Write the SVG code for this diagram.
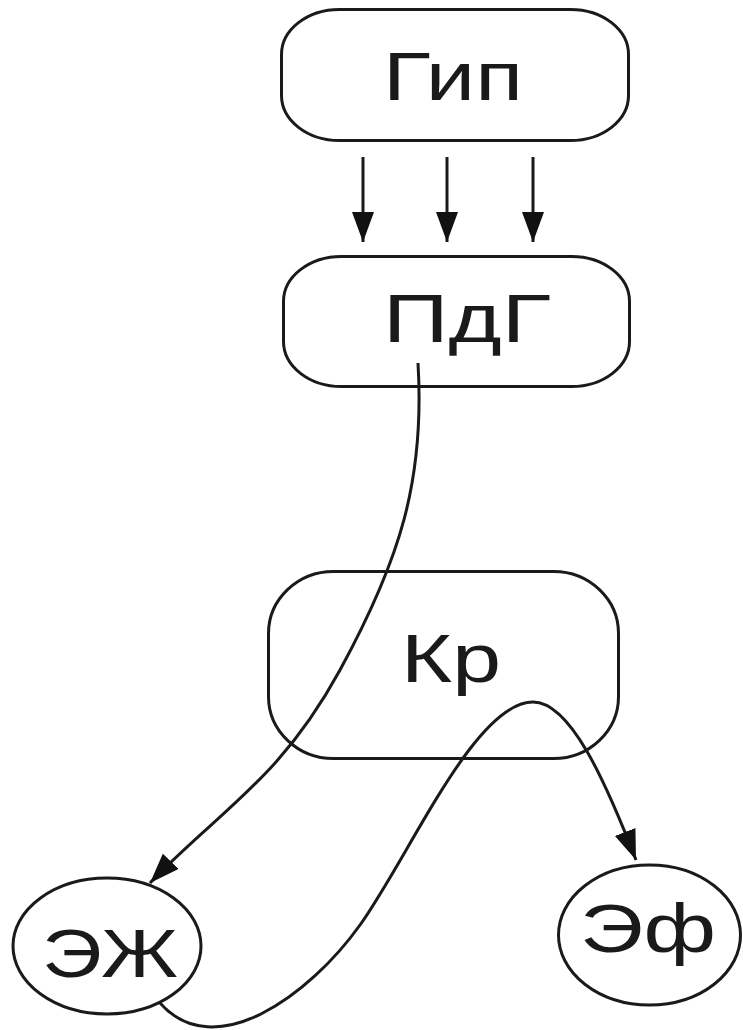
<svg xmlns="http://www.w3.org/2000/svg" width="743" height="1030" viewBox="0 0 743 1030">
<style>
.box{fill:#fff;stroke:#1a1a1a;stroke-width:3}
.lbl{font-family:"Liberation Sans",Arial,sans-serif;font-size:68px;fill:#1a1a1a;text-anchor:middle}
.edge{fill:none;stroke:#1a1a1a;stroke-width:3}
</style>
<defs>
<marker id="ah" markerUnits="userSpaceOnUse" markerWidth="32" markerHeight="24" refX="30" refY="11" orient="auto">
<path d="M0,0 L30,11 L0,22 z" fill="#111"/>
</marker>
</defs>
<rect width="743" height="1030" fill="#fff"/>
<g id="node-gip">
<rect class="box" x="281.5" y="9.5" width="347" height="131" rx="58" ry="45"/>
<text class="lbl" x="453" y="100" textLength="140" lengthAdjust="spacingAndGlyphs">Гип</text>
</g>
<g id="node-pdg">
<rect class="box" x="283.5" y="256.5" width="346" height="130" rx="58" ry="45"/>
<text class="lbl" x="467" y="342" textLength="168" lengthAdjust="spacingAndGlyphs">ПдГ</text>
</g>
<g id="node-kr">
<rect class="box" x="268.5" y="571.5" width="350" height="187" rx="65" ry="62"/>
<text class="lbl" x="451" y="682" textLength="100" lengthAdjust="spacingAndGlyphs">Кр</text>
</g>
<g id="node-ezh">
<ellipse class="box" cx="107" cy="946" rx="94" ry="68"/>
<text class="lbl" x="110" y="977" textLength="136" lengthAdjust="spacingAndGlyphs">ЭЖ</text>
</g>
<g id="node-ef">
<ellipse class="box" cx="649.5" cy="935" rx="91" ry="70"/>
<text class="lbl" x="648" y="952" textLength="136" lengthAdjust="spacingAndGlyphs">Эф</text>
</g>
<g id="connectors">
<line class="edge" x1="363" y1="157" x2="363" y2="242" marker-end="url(#ah)"/>
<line class="edge" x1="447" y1="157" x2="447" y2="242" marker-end="url(#ah)"/>
<line class="edge" x1="533" y1="157" x2="533" y2="242" marker-end="url(#ah)"/>
<path class="edge" d="M418,363 C425,480 400,560 340,670 S220,810 150,883" marker-end="url(#ah)"/>
<path class="edge" d="M160,1003 C215,1065 310,995 360,925 C410,855 475,702 533,702 C570,702 605,780 636,860" marker-end="url(#ah)"/>
</g>
</svg>
